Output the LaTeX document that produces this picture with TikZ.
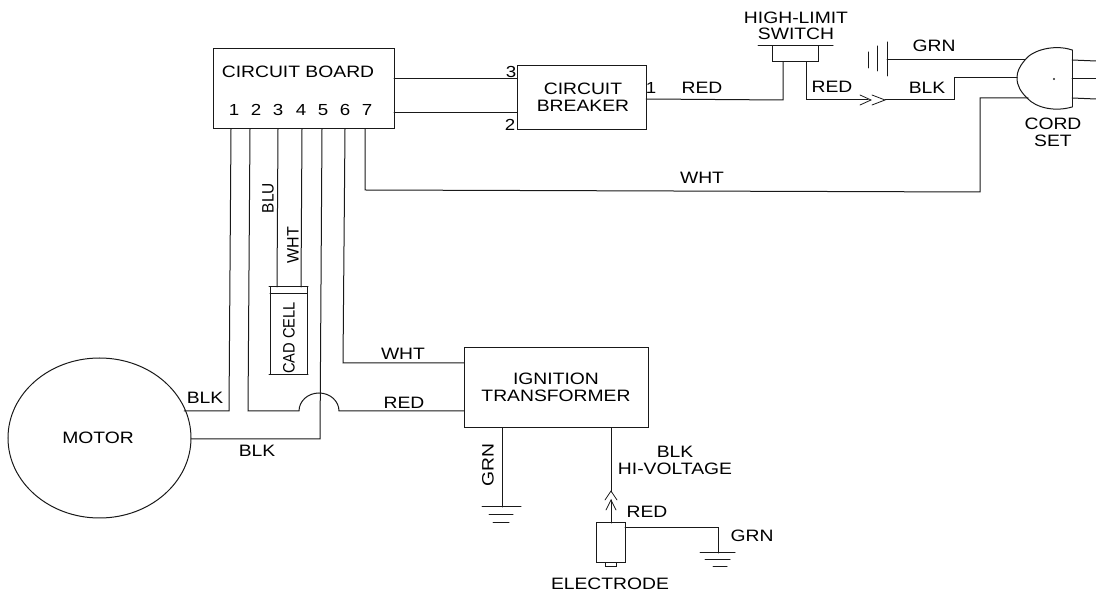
\documentclass[tikz,border=0pt]{standalone}
\usepackage{graphicx}
\usepackage{fontspec}
\setmainfont[FakeStretch=1.17]{Liberation Sans}
\usetikzlibrary{shapes.geometric}
\newcommand{\narrowtext}[2]{\scalebox{#1}[1]{#2}}
\tikzset{
  wire/.style={draw=black!90,line width=1pt,line cap=round,line join=miter},
  box/.style={wire,rectangle,inner sep=0pt,outer sep=0pt},
  lab/.style={font=\fontsize{16.5}{16.5}\selectfont,text=black,inner sep=0pt,outer sep=0pt,align=center},
  pin/.style={lab,font=\fontsize{16}{16}\selectfont},
  chev/.style={wire,line width=0.8pt}
}
\begin{document}
\begin{tikzpicture}[x=1pt,y=-1pt]
\useasboundingbox (0,0) rectangle (1096,593);
% boxes
\node[box,minimum width=181pt,minimum height=80pt] (board) at (303.5,89) {};
\node[box,minimum width=129pt,minimum height=64pt] (breaker) at (581.5,98) {};
\node[box,minimum width=46pt,minimum height=16pt] (switch) at (795,54) {};
\node[box,minimum width=184pt,minimum height=80pt] (xfmr) at (556,388) {};
\node[box,minimum width=37pt,minimum height=88pt] (cad) at (288.5,331) {};
\node[box,minimum width=29pt,minimum height=40pt] (electrode) at (610.5,543) {};
\node[box,minimum width=11pt,minimum height=4pt] (tab) at (610.5,565) {};
\node[wire,ellipse,inner sep=0pt,outer sep=0pt,minimum width=183pt,minimum height=160pt] (motor) at (99.5,438) {};
% free ends
\coordinate (p1) at (231,129); \coordinate (p1b) at (229,411); \coordinate (m1) at (184,411);
\coordinate (p2) at (250,129); \coordinate (p2b) at (248,411); \coordinate (hopA) at (299,411);
\coordinate (hopB) at (339,411); \coordinate (x1) at (464,411);
\coordinate (p3) at (278,129); \coordinate (c3) at (277,287);
\coordinate (p4) at (302,129); \coordinate (c4) at (301,287);
\coordinate (p5) at (322,129); \coordinate (p5b) at (320,439); \coordinate (m2) at (191,439);
\coordinate (p6) at (345,129); \coordinate (p6b) at (343,363); \coordinate (x2) at (464,363);
\coordinate (p7) at (365,129); \coordinate (p7b) at (365,190); \coordinate (w1) at (980,192);
\coordinate (w2) at (980,98); \coordinate (w3) at (1028,98);
\coordinate (bb1) at (394,79); \coordinate (cb1) at (517,79);
\coordinate (bb2) at (394,113); \coordinate (cb2) at (517,113);
\coordinate (cb3) at (646,99); \coordinate (sw1) at (783,100); \coordinate (sw1t) at (783,62);
\coordinate (sw2t) at (806,62); \coordinate (sw2) at (806,100); \coordinate (ch) at (868,100);
\coordinate (ch2) at (885,100); \coordinate (k1) at (954,100); \coordinate (k2) at (954,78);
\coordinate (k3) at (1017,78);
\coordinate (g0) at (887,60); \coordinate (g1) at (1025,60);
\coordinate (cT) at (1072,50); \coordinate (cB) at (1072,107);
% connectors
\draw[wire] (p1) -- (p1b) -- (m1);
\draw[wire] (p2) -- (p2b) -- (hopA) arc[start angle=180,end angle=0,x radius=20,y radius=-18] -- (x1);
\draw[wire] (p3) -- (c3);
\draw[wire] (p4) -- (c4);
\draw[wire] (p5) -- (p5b) -- (m2);
\draw[wire] (p6) -- (p6b) -- (x2);
\draw[wire] (p7) -- (p7b) -- (w1) -- (w2) -- (w3);
\draw[wire] (bb1) -- (cb1);
\draw[wire] (bb2) -- (cb2);
\draw[wire] (cb3) -- (sw1) -- (sw1t);
\draw[wire] (sw2t) -- (sw2) -- (ch);
\draw[wire] (ch2) -- (k1) -- (k2) -- (k3);
\draw[wire] (g0) -- (g1);
% high-limit switch bar
\draw[wire] (758,46) -- (833,46);
% plug chevrons
\draw[chev] (860,95) -- (871,100) -- (860,105);
\draw[chev] (872,95) -- (885,100) -- (872,105);
% ground bars at plug
\draw[wire] (868,52) -- (868,68);
\draw[wire] (877,46) -- (877,71);
\draw[wire] (887,42) -- (887,76);
% cord set
\draw[wire] (cT) .. controls (1055,44) and (1032,50) .. (1025,60)
  .. controls (1019,67) and (1017,72) .. (1017,78)
  .. controls (1017,86) and (1021,92) .. (1027,98)
  .. controls (1036,108) and (1055,112) .. (cB);
\draw[wire] (cT) -- (cB);
\draw[wire] (1072,60) -- (1096,61);
\draw[wire] (1072,79) -- (1096,79);
\draw[wire] (1072,98) -- (1096,99);
\fill[black!85] (1054,79) circle (1.1pt);
% cad cell cap
\draw[wire] (269,287) -- (308,287);
\draw[wire] (270,294) -- (307,294);
\draw[wire] (269,375) -- (308,375);
% transformer bottom
\coordinate (x3) at (502,428); \coordinate (g3) at (502,507);
\coordinate (x4) at (611,428); \coordinate (h1) at (611,492);
\coordinate (h2) at (611,500); \coordinate (e1) at (611,523);
\coordinate (e2) at (625,528); \coordinate (e3) at (718,528); \coordinate (g4) at (718,553);
\draw[wire] (x3) -- (g3);
\draw[wire] (x4) -- (h1);
\draw[wire] (h2) -- (e1);
\draw[chev] (605,500) -- (611,491) -- (617,500);
\draw[chev] (606,510) -- (611,500) -- (616,510);
\draw[wire] (e2) -- (e3) -- (g4);
% grounds
\draw[wire] (482,507) -- (521,507);
\draw[wire] (489,515) -- (513,515);
\draw[wire] (493,523) -- (509,523);
\draw[wire] (700,553) -- (735,553);
\draw[wire] (705,560) -- (730,560);
\draw[wire] (713,567) -- (727,567);
% labels
\node[lab] (tBoard) at (298,72) {CIRCUIT BOARD};
\node[pin] (n1) at (234,110) {1};
\node[pin] (n2) at (256,110) {2};
\node[pin] (n3) at (278,110) {3};
\node[pin] (n4) at (301,110) {4};
\node[pin] (n5) at (323,110) {5};
\node[pin] (n6) at (345,110) {6};
\node[pin] (n7) at (367,110) {7};
\node[pin] (nb3) at (511,72) {3};
\node[pin] (nb2) at (510,125) {2};
\node[pin] (nb1) at (651,88) {1};
\node[lab] (tBreaker) at (583,97) {CIRCUIT\\BREAKER};
\node[lab] (tRed1) at (702,88) {RED};
\node[lab] (tSwitch) at (796,26) {HIGH-LIMIT\\SWITCH};
\node[lab] (tRed2) at (832,87) {RED};
\node[lab] (tGrn1) at (934,46) {GRN};
\node[lab] (tBlk1) at (927,88) {BLK};
\node[lab] (tCord) at (1053,132.5) {CORD\\SET};
\node[lab] (tWht1) at (702,178) {WHT};
\node[lab,rotate=90] (tBlu) at (268,198) {\narrowtext{0.8}{BLU}};
\node[lab,rotate=90] (tWht2) at (293,245) {\narrowtext{0.83}{WHT}};
\node[lab,rotate=90] (tCad) at (289,338) {\narrowtext{0.76}{CAD CELL}};
\node[lab] (tWht3) at (403,354) {WHT};
\node[lab] (tRed3) at (404,403) {RED};
\node[lab] (tBlk2) at (205,398) {BLK};
\node[lab] (tBlk3) at (257,451) {BLK};
\node[lab] (tMotor) at (98,438) {MOTOR};
\node[lab] (tXfmr) at (556,387.5) {IGNITION\\TRANSFORMER};
\node[lab,rotate=90] (tGrn2) at (488,465) {GRN};
\node[lab] (tHv) at (675,460.5) {BLK\\HI-VOLTAGE};
\node[lab] (tRed4) at (647,512) {RED};
\node[lab] (tGrn3) at (752,536) {GRN};
\node[lab] (tElec) at (610,584) {ELECTRODE};
\end{tikzpicture}
\end{document}
